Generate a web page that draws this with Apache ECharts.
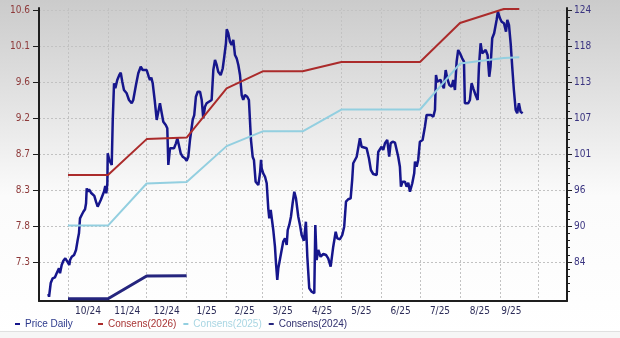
<!DOCTYPE html>
<html><head><meta charset="utf-8">
<script src="https://cdn.jsdelivr.net/npm/echarts@6/dist/echarts.min.js"></script>
<style>
html,body{margin:0;padding:0;background:#fff;overflow:hidden;}
#c{width:620px;height:338px;position:absolute;left:0;top:0;}
#sep{position:absolute;left:0;top:331px;width:620px;height:7px;background:#f6f6f6;border-top:1px solid #e0e0e0;}
</style></head><body>
<div id="c"></div><div id="sep"></div>
<script>
// ---- data ----
const xLabels = ['10/24','11/24','12/24','1/25','2/25','3/25','4/25','5/25','6/25','7/25','8/25','9/25'];
const epsTickLabels = ['7.3','7.8','8.3','8.7','9.2','9.6','10.1','10.6'];
const priceTickLabels = ['84','90','96','101','107','113','118','124'];
const epsTickStart = 7.333, epsTickStep = 0.462;
const priceTickStart = 84.3, priceTickStep = 5.67;

const consDates = ['2024-10-01','2024-11-01','2024-12-01','2025-01-01','2025-02-01','2025-03-01','2025-04-01','2025-05-01','2025-06-01','2025-07-01','2025-08-01','2025-09-04','2025-09-16'];
const cons2026 = [8.45, 8.45, 8.91, 8.93, 9.56, 9.78, 9.78, 9.90, 9.90, 9.90, 10.40, 10.58, 10.58];
const cons2025 = [7.80, 7.80, 8.34, 8.36, 8.82, 9.01, 9.01, 9.29, 9.29, 9.29, 9.88, 9.95, 9.96];
const cons2024Dates = ['2024-10-01','2024-11-01','2024-12-01','2025-01-01'];
const cons2024 = [6.862, 6.862, 7.153, 7.157];

// days since 2024-10-01
const priceDay = [-15.3,-14.7,-13.4,-11.9,-10.1,-8.8,-7.8,-7.0,-6.2,-4.9,
-3.6,-2.1,-0.5,1.0,1.6,2.9,4.7,6.2,7.5,8.5,
9.3,10.6,11.9,13.2,14.0,14.5,15.3,16.3,17.8,19.2,
20.4,21.7,23.0,24.0,25.4,26.9,27.9,28.9,29.7,30.5,
30.8,32.0,33.9,34.7,35.7,36.7,38.2,39.8,40.9,42.1,
43.4,45.5,47.3,49.4,50.6,52.7,54.5,56.4,57.9,59.2,
61.0,62.6,63.6,64.6,65.7,67.2,68.8,70.0,71.3,72.7,
73.9,75.8,77.0,77.8,79.1,80.4,82.2,83.7,84.8,86.1,
87.4,88.9,90.7,92.0,93.3,94.6,96.7,97.9,99.2,100.6,
102.4,103.7,104.9,106.2,107.5,108.8,111.4,112.7,114.0,115.3,
116.5,118.4,120.0,121.2,122.5,123.1,124.3,125.6,126.9,128.2,
129.5,130.8,132.1,133.4,134.7,135.9,137.2,139.0,140.3,141.1,
141.9,143.2,144.2,145.5,147.6,148.9,149.7,150.2,151.4,152.8,
154.1,155.3,156.1,157.2,158.2,159.2,160.5,161.3,162.3,163.1,
164.4,165.7,166.9,168.3,169.6,170.4,171.6,172.9,174.2,175.5,
176.8,178.6,179.9,181.2,183.0,184.5,185.6,187.1,189.0,191.0,
191.8,192.8,194.1,195.9,198.0,200.1,201.8,203.7,205.7,207.6,
208.8,210.9,212.7,214.2,215.6,217.3,219.2,220.4,221.2,222.5,
223.9,226.4,227.7,229.0,231.6,233.4,234.9,236.7,239.4,240.6,
241.9,243.2,244.5,245.8,247.6,249.1,250.2,251.8,253.6,254.9,
256.1,257.4,258.2,259.5,261.3,262.6,263.9,265.2,267.0,268.5,
269.1,270.4,271.6,272.9,275.0,276.8,278.1,279.4,281.5,283.3,
284.6,285.4,286.4,287.7,289.0,290.2,291.5,292.9,294.1,295.7,
297.5,298.8,300.1,301.4,302.6,304.0,305.7,307.1,307.8,309.1,
310.4,311.7,313.0,314.3,316.1,317.7,318.7,320.0,321.2,322.6,
323.9,325.4,326.7,327.7,329.0,330.5,332.4,333.4,335.0,336.3,
338.1,339.7,340.7,342.0,343.3,344.5,345.8,347.2,348.4,349.7,
351.0,352.6];
const priceVal = [79.26,78.83,80.99,81.73,81.89,82.52,82.25,83.31,82.52,83.83,
84.5,84.88,84.35,83.83,84.62,85.13,85.4,86.19,87.77,88.82,
91.18,91.7,92.22,92.6,93.55,95.91,95.37,95.75,95.21,95.12,
94.7,93.8,93.01,93.28,94.07,94.85,95.37,96.27,95.12,96.7,
101.42,100.37,99.58,106.67,112.45,111.66,112.97,113.75,114.11,112.7,
111.39,110.87,109.82,109.3,109.82,112.18,114.02,115.06,114.54,114.81,
114.54,113.48,112.97,113.33,112.45,109.82,106.67,106.4,109.3,107.72,
106.4,105.88,105.36,99.58,102.21,101.94,102.21,102.99,103.78,103.63,
101.42,100.88,100.63,100.25,100.88,103.52,106.67,107.45,110.33,111.12,
111.12,109.82,106.93,108.76,109.3,109.55,109.82,114.54,116.12,115.33,
114.27,113.75,114.81,116.64,118.75,120.95,120.32,119.0,118.48,119.27,
116.9,116.38,115.33,113.75,110.6,109.82,110.6,110.33,109.82,106.67,
103.52,100.88,100.37,96.95,96.43,98.27,100.37,99.06,98.27,97.73,
96.7,92.76,91.18,92.49,90.92,89.34,86.71,84.1,81.47,83.31,
83.31,86.19,87.5,88.03,86.98,89.34,90.13,91.43,93.55,95.37,
94.33,91.43,90.13,88.55,87.65,90.65,85.13,80.16,79.62,79.37,
90.13,84.62,86.19,85.13,85.56,85.4,84.88,83.56,86.71,89.07,
88.03,87.88,88.55,89.86,93.8,94.18,94.33,97.22,99.85,99.74,
100.88,103.78,102.46,102.73,102.21,100.63,98.79,98.16,98.0,101.63,
101.94,102.46,101.94,102.99,103.52,100.88,102.99,103.25,103.09,102.89,
100.88,99.31,96.16,96.95,96.95,96.16,96.79,95.37,96.7,98.27,
100.1,99.31,100.37,103.25,103.52,105.61,107.45,107.72,107.45,107.18,
108.24,113.75,112.7,112.7,112.97,112.18,111.66,114.54,113.23,112.18,
111.91,112.97,111.39,115.85,117.69,117.17,116.38,115.85,109.3,109.55,
109.3,109.82,112.45,111.66,110.6,109.82,115.06,118.75,117.17,116.9,
117.69,116.9,113.48,115.06,119.53,120.32,122.42,123.72,122.68,122.15,
121.9,120.57,122.42,121.63,118.75,115.06,111.39,108.24,107.72,109.3,
107.97,107.72];

// ---- build ----
const DAY = 864e5;
const ts = s => { const [y, m, d] = s.split('-').map(Number); return new Date(y, m - 1, d).getTime(); };
const base = ts('2024-10-01');
const n = Math.min(priceDay.length, priceVal.length);
const priceData = [];
for (let i = 0; i < n; i++) priceData.push([base + priceDay[i] * DAY, priceVal[i]]);
const lastT = priceData[n - 1][0];
const monthStarts = [];
for (let i = 0; i <= 12; i++) monthStarts.push(new Date(2024, 9 + i, 1).getTime());
const labelPos = xLabels.map((_, i) => (monthStarts[i] + Math.min(monthStarts[i + 1], lastT)) / 2);

const xMin = base - 22.5 * DAY;
const xMax = new Date(2025, 8, 1).getTime() + 52 * DAY;

const epsTicks = epsTickLabels.map((_, i) => +(epsTickStart + i * epsTickStep).toFixed(4));
const priceTicks = priceTickLabels.map((_, i) => +(priceTickStart + i * priceTickStep).toFixed(4));
const leftMin = epsTickStart - 39 / 36 * epsTickStep;
const leftMax = epsTicks[epsTicks.length - 1] + 2 / 36 * epsTickStep;
const rightMin = priceTickStart - 39 / 36 * priceTickStep;
const rightMax = priceTicks[priceTicks.length - 1] + 2 / 36 * priceTickStep;
const minorTicks = [];
for (let k = -6; k <= 36; k++) {
  if (k % 5 === 0) continue;
  const v = priceTickStart + k * priceTickStep / 5;
  if (v > rightMin && v < rightMax) minorTicks.push(+v.toFixed(4));
}

const c2026 = consDates.map((d, i) => [ts(d), cons2026[i]]);
const c2025 = consDates.map((d, i) => [ts(d), cons2025[i]]);
const c2024 = cons2024Dates.map((d, i) => [ts(d), cons2024[i]]);

const axisFont = "'DejaVu Sans Condensed','DejaVu Sans',sans-serif";
const legFont = "'Liberation Sans',Arial,sans-serif";
const AX = '#1e1e1e';

const chart = echarts.init(document.getElementById('c'), null, {renderer: 'canvas'});
chart.setOption({
  animation: false,
  backgroundColor: {type: 'linear', x: 0, y: 0, x2: 0, y2: 1,
    colorStops: [{offset: 0, color: '#cbcbcb'}, {offset: 0.3, color: '#e3e3e3'}, {offset: 0.58, color: '#fbfbfb'}, {offset: 1, color: '#ffffff'}]},
  grid: {left: 39, right: 53, top: 8, bottom: 37},
  legend: [
    {data: [{name: 'Price Daily', textStyle: {color: '#2d3a8c'}}], left: 15, top: 319, icon: 'rect',
     itemWidth: 5, itemHeight: 2, selectedMode: false, padding: 0, textStyle: {fontFamily: legFont, fontSize: 10}},
    {data: [{name: 'Consens(2026)', textStyle: {color: '#a83434'}}, {name: 'Consens(2025)', textStyle: {color: '#a9d6e3'}}, {name: 'Consens(2024)', textStyle: {color: '#2f2f6e'}}],
     left: 98, top: 319, icon: 'rect', itemWidth: 5, itemHeight: 2, itemGap: 7, selectedMode: false, padding: 0,
     textStyle: {fontFamily: legFont, fontSize: 10}}
  ],
  xAxis: [{
    type: 'value', min: xMin, max: xMax,
    axisLine: {show: true, onZero: false, lineStyle: {color: AX, width: 2}},
    axisTick: {show: false, customValues: monthStarts},
    splitLine: {show: true, lineStyle: {color: '#c2c2c2', width: 1, type: [2, 2]}},
    axisLabel: {show: true, customValues: labelPos, margin: 5, color: '#2c2c58', fontFamily: axisFont, fontSize: 10,
      formatter: v => { const i = labelPos.findIndex(p => Math.abs(p - v) < DAY); return i >= 0 ? xLabels[i] : ''; }}
  }],
  yAxis: [{
    type: 'value', position: 'left', min: leftMin, max: leftMax,
    axisLine: {show: true, onZero: false, lineStyle: {color: AX, width: 2}},
    axisTick: {show: true, customValues: epsTicks, length: 6, lineStyle: {color: AX}},
    axisLabel: {customValues: epsTicks, margin: 9, color: '#8e3a3a', fontFamily: axisFont, fontSize: 10,
      formatter: v => epsTickLabels[Math.round((v - epsTickStart) / epsTickStep)] || ''},
    splitLine: {show: true, lineStyle: {color: '#c2c2c2', width: 1, type: [2, 2]}}
  }, {
    type: 'value', position: 'right', min: rightMin, max: rightMax,
    axisLine: {show: true, onZero: false, lineStyle: {color: AX, width: 2}},
    axisTick: {show: true, customValues: priceTicks, length: 5, lineStyle: {color: AX}},
    axisLabel: {customValues: priceTicks, margin: 7, color: '#3a3480', fontFamily: axisFont, fontSize: 10,
      formatter: v => priceTickLabels[Math.round((v - priceTickStart) / priceTickStep)] || ''},
    splitLine: {show: false}
  }, {
    type: 'value', position: 'right', min: rightMin, max: rightMax,
    axisLine: {show: false, onZero: false},
    axisTick: {show: true, customValues: minorTicks, length: 3, lineStyle: {color: AX}},
    axisLabel: {show: false},
    splitLine: {show: false}
  }],
  series: [
    {name: 'Price Daily', type: 'line', yAxisIndex: 1, data: priceData, symbol: 'none', showSymbol: false,
     lineStyle: {color: '#16168c', width: 2.5}, itemStyle: {color: '#16168c'}, z: 2},
    {name: 'Consens(2026)', type: 'line', yAxisIndex: 0, data: c2026, symbol: 'none', showSymbol: false,
     lineStyle: {color: '#ab2b2b', width: 2}, itemStyle: {color: '#ab2b2b'}, z: 3},
    {name: 'Consens(2025)', type: 'line', yAxisIndex: 0, data: c2025, symbol: 'none', showSymbol: false,
     lineStyle: {color: '#93cfe0', width: 2}, itemStyle: {color: '#93cfe0'}, z: 3},
    {name: 'Consens(2024)', type: 'line', yAxisIndex: 0, data: c2024, symbol: 'none', showSymbol: false,
     lineStyle: {color: '#25257e', width: 3}, itemStyle: {color: '#25257e'}, z: 3}
  ]
});
</script>
</body></html>
